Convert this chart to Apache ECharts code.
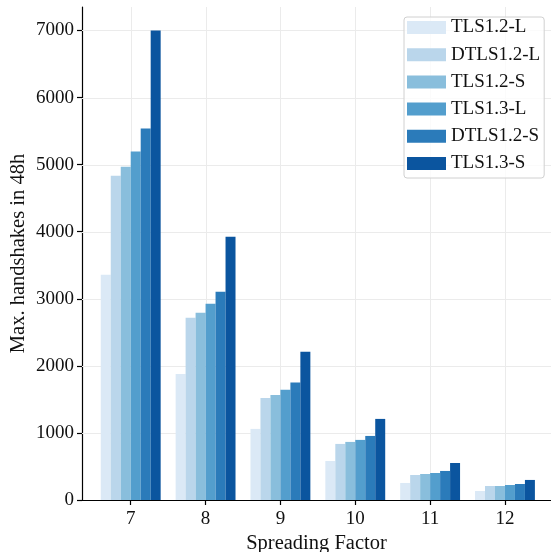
<!DOCTYPE html>
<html>
<head>
<meta charset="utf-8">
<script src="https://cdn.jsdelivr.net/npm/echarts@6/dist/echarts.min.js"></script>
<style>html,body{margin:0;padding:0;background:#fff;}#c{width:551px;height:552px;}</style>
</head>
<body>
<div id="c"></div>
<script>
const categories = ['7', '8', '9', '10', '11', '12'];
const seriesNames = ['TLS1.2-L', 'DTLS1.2-L', 'TLS1.2-S', 'TLS1.3-L', 'DTLS1.2-S', 'TLS1.3-S'];
const colors = ['#dbe9f6', '#bad6eb', '#89bedc', '#539ecd', '#2b7bba', '#0b559f'];
const tls12L  = [3358, 1880, 1060, 582, 254, 134];
const dtls12L = [4836, 2716, 1522, 836, 373, 209];
const tls12S  = [4970, 2791, 1567, 866, 388, 209];
const tls13L  = [5194, 2925, 1642, 896, 403, 224];
const dtls12S = [5537, 3104, 1751, 955, 433, 239];
const tls13S  = [7000, 3925, 2209, 1209, 552, 299];
const yTicks = [0, 1000, 2000, 3000, 4000, 5000, 6000, 7000];

const seriesValues = [tls12L, dtls12L, tls12S, tls13L, dtls12S, tls13S];
const FONT = 'Liberation Serif';
const XMIN = -0.651, XMAX = 5.615, YMAX = 7350;
const groupWidth = 0.8;
const barW = groupWidth / seriesNames.length;

const barSeries = seriesNames.map((name, si) => ({
  name: name,
  type: 'custom',
  itemStyle: { color: colors[si] },
  z: 3,
  data: seriesValues[si].map((v, ci) => [ci, v]),
  renderItem: function (params, api) {
    const c = api.value(0), v = api.value(1);
    const off = -groupWidth / 2 + barW * (si + 0.5);
    const p1 = api.coord([c + off - barW / 2, v]);
    const p2 = api.coord([c + off + barW / 2, 0]);
    return {
      type: 'rect',
      shape: { x: p1[0], y: p1[1], width: p2[0] - p1[0], height: p2[1] - p1[1] },
      style: { fill: colors[si] }
    };
  }
}));

const vGrid = {
  name: 'vgrid', type: 'custom', silent: true, z: 1,
  data: categories.map((c, i) => [i, YMAX]),
  renderItem: function (params, api) {
    const c = api.value(0);
    const p1 = api.coord([c, 0]);
    const p2 = api.coord([c, api.value(1)]);
    const x = Math.round(p1[0]) + 0.5;
    return { type: 'line', shape: { x1: x, y1: p1[1], x2: x, y2: p2[1] }, style: { stroke: '#ebebeb', lineWidth: 1 } };
  }
};

const hGrid = {
  name: 'hgrid', type: 'custom', silent: true, z: 1,
  data: yTicks.slice(1).map(v => [XMIN, v]),
  renderItem: function (params, api) {
    const v = api.value(1);
    const p1 = api.coord([XMIN, v]);
    const p2 = api.coord([XMAX, v]);
    const y = Math.round(p1[1]) + 0.5;
    return { type: 'line', shape: { x1: p1[0], y1: y, x2: p2[0], y2: y }, style: { stroke: '#ebebeb', lineWidth: 1 } };
  }
};

const chart = echarts.init(document.getElementById('c'), null, { renderer: 'canvas' });
chart.setOption({
  animation: false,
  backgroundColor: '#ffffff',
  textStyle: { fontFamily: FONT },
  grid: { left: 82, right: 0, top: 7, bottom: 52, containLabel: false, outerBoundsMode: 'none' },
  legend: {
    orient: 'vertical',
    left: 404,
    top: 17,
    data: seriesNames.map((n, i) => ({ name: n, icon: 'rect', itemStyle: { color: colors[i] } })),
    itemWidth: 39,
    itemHeight: 13,
    itemGap: 8.2,
    padding: [1, 4, 5, 3],
    backgroundColor: 'rgba(255,255,255,0.8)',
    borderColor: '#d0d0d0',
    borderWidth: 1,
    borderRadius: 3,
    textStyle: { fontFamily: FONT, fontSize: 19, color: '#111', lineHeight: 19 }
  },
  xAxis: {
    type: 'value',
    min: XMIN,
    max: XMAX,
    name: 'Spreading Factor',
    nameLocation: 'middle',
    nameGap: 33,
    nameMoveOverlap: false,
    nameTextStyle: { fontFamily: FONT, fontSize: 20.5, color: '#111' },
    axisLine: { show: true, onZero: false, lineStyle: { color: '#000', width: 1.2 } },
    axisTick: { show: true, length: 5, lineStyle: { color: '#000', width: 1.2 }, customValues: [0, 1, 2, 3, 4, 5] },
    axisLabel: {
      customValues: [0, 1, 2, 3, 4, 5],
      formatter: v => categories[Math.round(v)],
      fontFamily: FONT, fontSize: 19, color: '#111', margin: 10
    },
    splitLine: { show: false }
  },
  yAxis: {
    type: 'value',
    min: 0,
    max: YMAX,
    name: 'Max. handshakes in 48h',
    nameLocation: 'middle',
    nameGap: 53,
    nameMoveOverlap: false,
    nameTextStyle: { fontFamily: FONT, fontSize: 20.5, color: '#111' },
    axisLine: { show: true, onZero: false, lineStyle: { color: '#000', width: 1.2 } },
    axisTick: { show: true, length: 5, lineStyle: { color: '#000', width: 1.2 }, customValues: yTicks },
    axisLabel: { customValues: yTicks, formatter: v => String(v), fontFamily: FONT, fontSize: 19, color: '#111', margin: 8 },
    splitLine: { show: false }
  },
  series: [vGrid, hGrid].concat(barSeries)
});
</script>
</body>
</html>
